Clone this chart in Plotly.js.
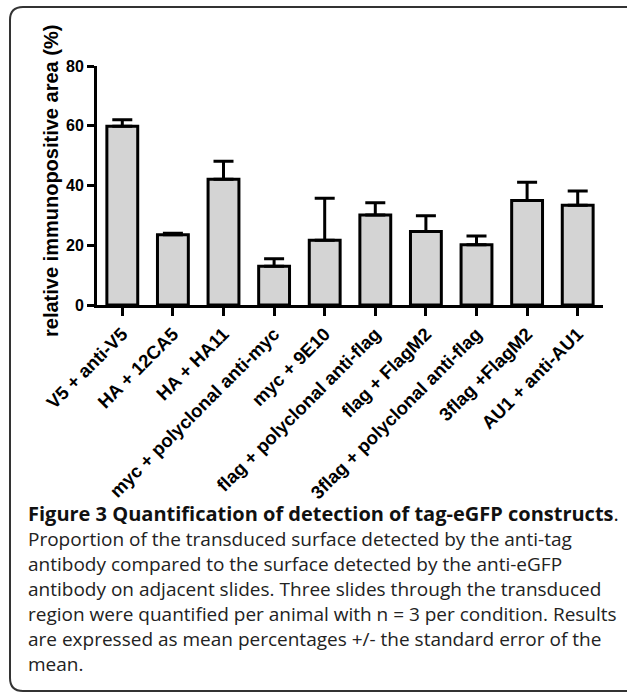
<!DOCTYPE html>
<html>
<head>
<meta charset="utf-8">
<script src="https://cdn.plot.ly/plotly-3.0.1.min.js"></script>
<style>
  html, body { margin: 0; padding: 0; background: #ffffff; }
  #chart { width: 627px; height: 693px; }
</style>
</head>
<body>
<div id="chart"></div>
<script>
// ---- data ----
const categories = [
  "V5 + anti-V5",
  "HA + 12CA5",
  "HA + HA11",
  "myc + polyclonal anti-myc",
  "myc + 9E10",
  "flag + polyclonal anti-flag",
  "flag + FlagM2",
  "3flag + polyclonal anti-flag",
  "3flag +FlagM2",
  "AU1 + anti-AU1"
];
const meanValues = [59.8, 23.5, 42.1, 13.0, 21.7, 30.1, 24.6, 20.2, 35.0, 33.4];
const semValues  = [2.2, 0.5, 6.0, 2.5, 14.0, 4.1, 5.3, 2.9, 6.1, 4.8];
const yTickValues = [0, 20, 40, 60, 80];

const yTitle = "relative immunopositive area (%)";
const captionTitle = "Figure 3 Quantification of detection of tag-eGFP constructs";
const captionLines = [
  "Proportion of the transduced surface detected by the anti-tag",
  "antibody compared to the surface detected by the anti-eGFP",
  "antibody on adjacent slides. Three slides through the transduced",
  "region were quantified per animal with n = 3 per condition. Results",
  "are expressed as mean percentages +/- the standard error of the",
  "mean."
];

// ---- layout geometry (pixels) ----
const W = 627, H = 693;
const M = { l: 97, r: 24, t: 66, b: 388 };
const plotW = W - M.l - M.r, plotH = H - M.t - M.b;
const px2x = px => (px - M.l) / plotW;
const px2y = py => (H - M.b - py) / plotH;

const chartFont = "Liberation Sans, Arial, Helvetica, sans-serif";
const captionFont = "Open Sans, Noto Sans, sans-serif";

const trace = {
  type: "bar",
  x: categories,
  y: meanValues,
  marker: { color: "#d4d4d4", line: { color: "#000000", width: 3 } },
  error_y: {
    type: "data",
    symmetric: false,
    array: semValues,
    arrayminus: semValues.map(() => 0),
    color: "#000000",
    thickness: 3,
    width: 10
  },
  hoverinfo: "skip"
};

// caption annotations
const annotations = [];
const captionX = px2x(26);
annotations.push({
  xref: "paper", yref: "paper", x: captionX, y: px2y(513),
  xanchor: "left", yanchor: "middle", showarrow: false,
  text: "<b>" + captionTitle + "</b>.",
  font: { family: captionFont, size: 20, color: "#111111" }
});
const lineY = [539, 564, 589, 614, 639, 664];
captionLines.forEach((t, i) => {
  annotations.push({
    xref: "paper", yref: "paper", x: captionX, y: px2y(lineY[i]),
    xanchor: "left", yanchor: "middle", showarrow: false,
    text: t,
    font: { family: captionFont, size: 19, color: "#222222" }
  });
});
// y-axis title as rotated annotation
annotations.push({
  xref: "paper", yref: "paper", x: px2x(51), y: px2y(181),
  xanchor: "center", yanchor: "middle", showarrow: false, textangle: -90,
  text: "<b>" + yTitle + "</b>",
  font: { family: chartFont, size: 20, color: "#000000" }
});

// frame with rounded corners (open to the right)
const r = 13;
const fx0 = 10, fy0 = 7, fy1 = 691, fx1 = 660;
const framePath =
  "M " + px2x(fx1) + "," + px2y(fy0) +
  " L " + px2x(fx0 + r) + "," + px2y(fy0) +
  " Q " + px2x(fx0) + "," + px2y(fy0) + " " + px2x(fx0) + "," + px2y(fy0 + r) +
  " L " + px2x(fx0) + "," + px2y(fy1 - r) +
  " Q " + px2x(fx0) + "," + px2y(fy1) + " " + px2x(fx0 + r) + "," + px2y(fy1) +
  " L " + px2x(fx1) + "," + px2y(fy1);

const layout = {
  width: W, height: H,
  margin: M,
  paper_bgcolor: "#ffffff",
  plot_bgcolor: "#ffffff",
  showlegend: false,
  bargap: 0.39,
  xaxis: {
    type: "category",
    range: [-0.5, categories.length - 0.5],
    showline: true, linecolor: "#000000", linewidth: 3,
    ticks: "outside", ticklen: 8, tickwidth: 3, tickcolor: "#000000",
    tickangle: -45,
    tickfont: { family: chartFont, size: 18.5, color: "#000000", weight: "bold" },
    showgrid: false, zeroline: false, fixedrange: true
  },
  yaxis: {
    range: [0, 80],
    tickvals: yTickValues,
    ticktext: yTickValues.map(String),
    showline: true, linecolor: "#000000", linewidth: 3,
    ticks: "outside", ticklen: 7, tickwidth: 3, tickcolor: "#000000",
    tickfont: { family: chartFont, size: 16, color: "#000000", weight: "bold" },
    showgrid: false, zeroline: false, fixedrange: true
  },
  annotations: annotations,
  shapes: [{
    type: "path", xref: "paper", yref: "paper",
    path: framePath,
    line: { color: "#333333", width: 2 },
    fillcolor: "rgba(0,0,0,0)",
    layer: "below"
  }]
};

Plotly.newPlot("chart", [trace], layout, { staticPlot: true, displayModeBar: false });
</script>
</body>
</html>
